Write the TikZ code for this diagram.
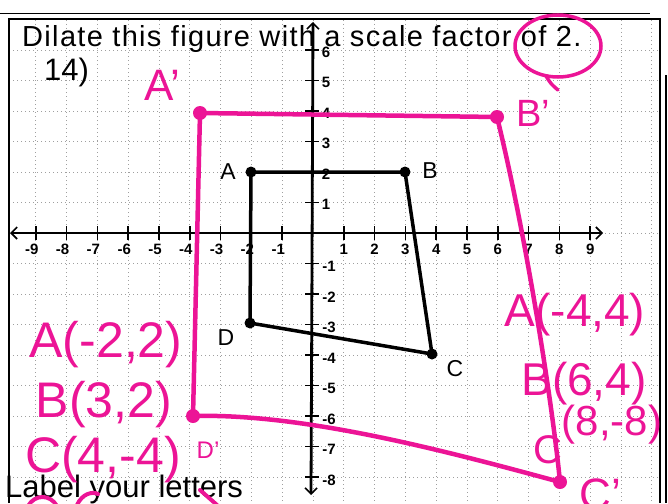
\documentclass[tikz,border=0pt]{standalone}
\usepackage{fontspec}
\setmainfont{Liberation Sans}
\usetikzlibrary{arrows.meta}
\definecolor{mag}{RGB}{236,20,150}
\begin{document}
\begin{tikzpicture}[x=1pt,y=-1pt,
  gridline/.style={gray!75, dash pattern=on 1pt off 3pt, line width=0.9pt},
  axisline/.style={black, line width=2.8pt},
  tickmark/.style={black, line width=1.6pt},
  ticklab/.style={inner sep=0pt, font=\fontsize{15}{15}\selectfont\bfseries},
  fig/.style={black, line width=3.5pt, line join=round},
  bdot/.style={circle, fill=black, inner sep=0pt, minimum size=11pt},
  mdot/.style={circle, fill=mag, inner sep=0pt, minimum size=14pt},
  mline/.style={mag, line width=4.5pt, line cap=round, line join=round},
  hw/.style={mag, inner sep=0pt, font=\fontsize{#1}{#1}\selectfont},
  hw/.default=48,
  lab/.style={inner sep=0pt, font=\fontsize{23}{23}\selectfont},
  barb/.tip={Straight Barb[length=6pt,width=12pt,line width=1.6pt]},
]
\fill[white] (0,0) rectangle (668,503);
\useasboundingbox (0,0) rectangle (668,503);
\begin{scope}
\clip (0,0) rectangle (668,503);

% grid
\foreach \k in {-9,...,11} \draw[gridline] ({313+30.8*\k},20) -- ({313+30.8*\k},503);
\foreach \k in {-8,...,6} \draw[gridline] (9,{233-30.5*\k}) -- (659,{233-30.5*\k});

% frame
\draw[line width=1.6pt] (9,503) -- (9,19) -- (660,19) -- (660,503);
\draw[line width=0.9pt] (0,13) -- (650,13);
\draw[line width=1.2pt] (666,75) -- (666,503);

% axes
\coordinate (xl) at (10,233);
\coordinate (xr) at (603,233);
\coordinate (yt) at (313,22);
\coordinate (yb) at (311,495);
\draw[axisline, barb-barb] (xl) -- (xr);
\draw[axisline, barb-barb] (yt) -- (yb);
\foreach \k in {-9,...,-1,1,2,...,9} {
  \draw[tickmark] ({313+30.8*\k},226) -- ++(0,14);
}
\foreach \k in {-9,...,-1} \node[ticklab] (xlab\k) at ({313+30.8*\k-4},249) {\k};
\foreach \k in {1,...,9} \node[ticklab] (xlab\k) at ({313+30.8*\k},249) {\k};
\foreach \k in {-8,...,-1,1,2,...,6} {
  \draw[tickmark] (305,{233-30.5*\k}) -- ++(14,0);
}
\foreach \k in {1,...,6} \node[ticklab] (ylab\k) at (326,{233-30.5*\k+2}) {\k};
\foreach \k in {-8,...,-1} \node[ticklab] (ylab\k) at (329,{233-30.5*\k+3}) {\k};

% printed texts
\node[anchor=base west, inner sep=0pt, font=\fontsize{29}{29}\selectfont\addfontfeatures{LetterSpace=4.6}] (title) at (22,47) {Dilate this figure with a scale factor of 2.};
\node[anchor=base west, inner sep=0pt, font=\fontsize{31}{31}\selectfont] (num) at (44,80) {14)};
\node[anchor=base west, inner sep=0pt, font=\fontsize{31}{31}\selectfont] (foot) at (5,497) {Label your letters};

% original figure
\node[bdot] (A) at (251,172) {};
\node[bdot] (B) at (405,172) {};
\node[bdot] (C) at (432,354) {};
\node[bdot] (D) at (250,323) {};
\draw[fig] (A.center) -- (B.center) -- (C.center) -- (D.center) -- cycle;
\node[lab] (lA) at (228,172) {A};
\node[lab] (lB) at (430,171) {B};
\node[lab] (lC) at (455,369) {C};
\node[lab] (lD) at (226,338) {D};

% dilated figure (hand drawn)
\node[mdot] (Ap) at (200,113) {};
\node[mdot] (Bp) at (497,117) {};
\node[mdot] (Cp) at (560,482) {};
\node[mdot] (Dp) at (193,416) {};
\draw[mline] (Ap.center) -- (Bp.center);
\draw[mline] (Bp.center) .. controls (525,230) and (552,400) .. (Cp.center);
\draw[mline] (Cp.center) .. controls (453,453) and (306,413) .. (Dp.center);
\draw[mline] (Dp.center) -- (Ap.center);

% circle around "of 2."
\draw[mag, line width=3.5pt] (558,46) ellipse [x radius=43pt, y radius=31pt];
\draw[mag, line width=3.5pt, line cap=round] (546,76) .. controls (551,84) .. (558,90);

% handwritten labels
\node[hw=44] (tAp) at (162,85) {A'};
\node[hw=38] (tBp) at (533,113) {B'};
\node[hw=50] (t1) at (106,345) {A(-2,2)};
\node[hw=50] (t2) at (104,405) {B(3,2)};
\node[hw=50] (t3) at (103,460) {C(4,-4)};
\node[hw=24] (tDp) at (208,450) {D'};
\node[hw=46] (t4) at (575,315) {A(-4,4)};
\node[hw=46] (t5) at (584,384) {B(6,4)};
\node[hw=40] (t6) at (548,450) {C};
\node[hw=42] (t7) at (612,425) {(8,-8)};
\node[hw=44, anchor=base] (tCp) at (600,509) {C'};

% cut-off marks at the bottom
\draw[mag, line width=4pt, line cap=round] (28,506) .. controls (35,494) and (50,494) .. (57,506);
\draw[mag, line width=4pt, line cap=round] (77,505) .. controls (82,494) and (92,491) .. (98,494);
\draw[mag, line width=4pt, line cap=round] (200,490) -- (217,505);
\end{scope}
\end{tikzpicture}
\end{document}
